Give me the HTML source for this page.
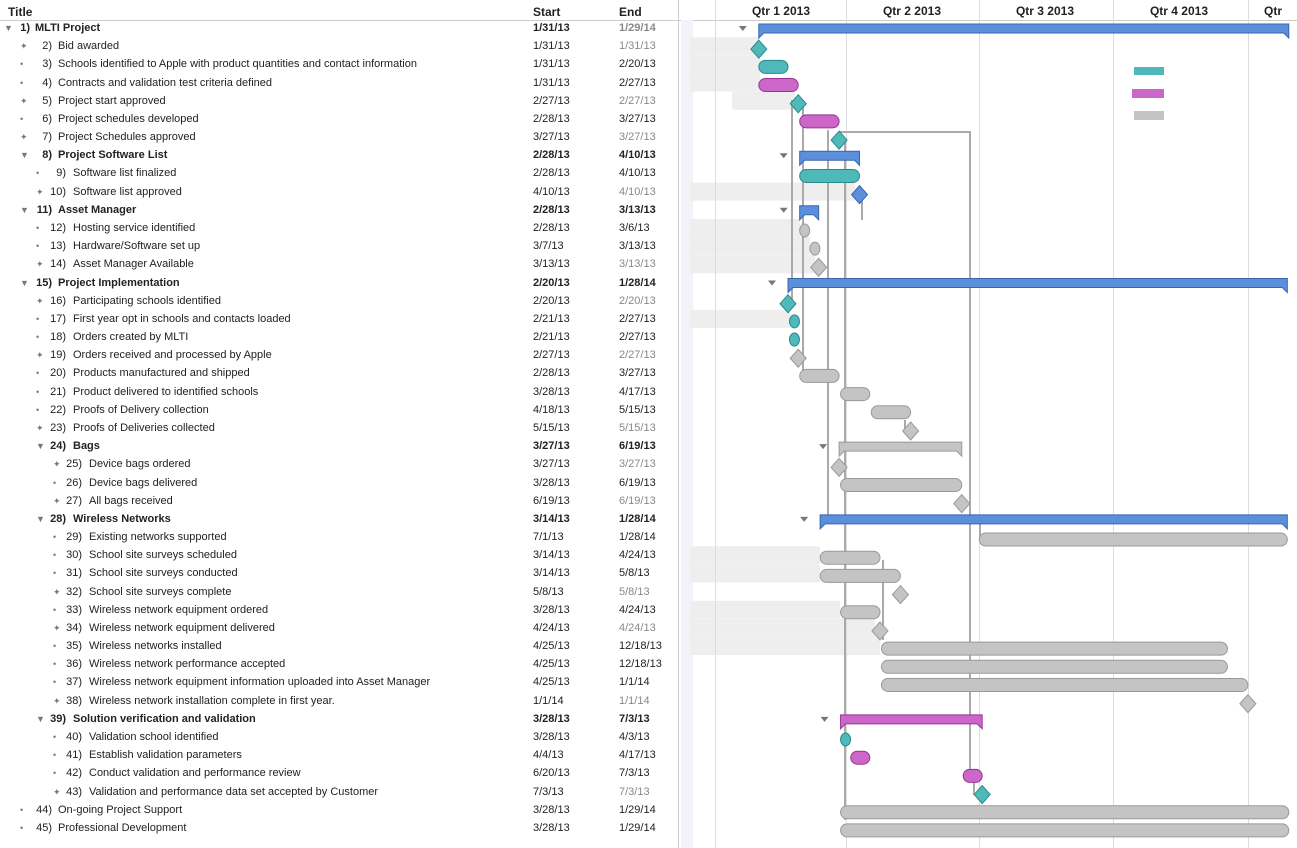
<!DOCTYPE html>
<html><head><meta charset="utf-8"><style>
body{margin:0;width:1297px;height:848px;background:#fff;overflow:hidden;font-family:"Liberation Sans",sans-serif;position:relative}
.r{position:absolute;left:0;width:678px;height:18px;font-size:11px;line-height:18px;color:#222}
.r span{position:absolute;white-space:nowrap}
.b{font-weight:bold}
.g{color:#888}
#svg{position:absolute;left:0;top:0}
</style></head><body>
<svg id="svg" width="1297" height="848"></svg>
<div id="rows"></div>
<script>
var T=[
[0,1,"MLTI Project","1/31/13","1/29/14","S"],
[1,2,"Bid awarded","1/31/13","1/31/13","M","t"],
[1,3,"Schools identified to Apple with product quantities and contact information","1/31/13","2/20/13","T","t"],
[1,4,"Contracts and validation test criteria defined","1/31/13","2/27/13","T","m"],
[1,5,"Project start approved","2/27/13","2/27/13","M","t"],
[1,6,"Project schedules developed","2/28/13","3/27/13","T","m"],
[1,7,"Project Schedules approved","3/27/13","3/27/13","M","t"],
[1,8,"Project Software List","2/28/13","4/10/13","S"],
[2,9,"Software list finalized","2/28/13","4/10/13","T","t"],
[2,10,"Software list approved","4/10/13","4/10/13","M","b"],
[1,11,"Asset Manager","2/28/13","3/13/13","S"],
[2,12,"Hosting service identified","2/28/13","3/6/13","T","g"],
[2,13,"Hardware/Software set up","3/7/13","3/13/13","T","g"],
[2,14,"Asset Manager Available","3/13/13","3/13/13","M","g"],
[1,15,"Project Implementation","2/20/13","1/28/14","S"],
[2,16,"Participating schools identified","2/20/13","2/20/13","M","t"],
[2,17,"First year opt in schools and contacts loaded","2/21/13","2/27/13","T","t"],
[2,18,"Orders created by MLTI","2/21/13","2/27/13","T","t"],
[2,19,"Orders received and processed by Apple","2/27/13","2/27/13","M","g"],
[2,20,"Products manufactured and shipped","2/28/13","3/27/13","T","g"],
[2,21,"Product delivered to identified schools","3/28/13","4/17/13","T","g"],
[2,22,"Proofs of Delivery collection","4/18/13","5/15/13","T","g"],
[2,23,"Proofs of Deliveries collected","5/15/13","5/15/13","M","g"],
[2,24,"Bags","3/27/13","6/19/13","SG"],
[3,25,"Device bags ordered","3/27/13","3/27/13","M","g"],
[3,26,"Device bags delivered","3/28/13","6/19/13","T","g"],
[3,27,"All bags received","6/19/13","6/19/13","M","g"],
[2,28,"Wireless Networks","3/14/13","1/28/14","S"],
[3,29,"Existing networks supported","7/1/13","1/28/14","T","g"],
[3,30,"School site surveys scheduled","3/14/13","4/24/13","T","g"],
[3,31,"School site surveys conducted","3/14/13","5/8/13","T","g"],
[3,32,"School site surveys complete","5/8/13","5/8/13","M","g"],
[3,33,"Wireless network equipment ordered","3/28/13","4/24/13","T","g"],
[3,34,"Wireless network equipment delivered","4/24/13","4/24/13","M","g"],
[3,35,"Wireless networks installed","4/25/13","12/18/13","T","g"],
[3,36,"Wireless network performance accepted","4/25/13","12/18/13","T","g"],
[3,37,"Wireless network equipment information uploaded into Asset Manager","4/25/13","1/1/14","T","g"],
[3,38,"Wireless network installation complete in first year.","1/1/14","1/1/14","M","g"],
[2,39,"Solution verification and validation","3/28/13","7/3/13","SM"],
[3,40,"Validation school identified","3/28/13","4/3/13","T","t"],
[3,41,"Establish validation parameters","4/4/13","4/17/13","T","m"],
[3,42,"Conduct validation and performance review","6/20/13","7/3/13","T","m"],
[3,43,"Validation and performance data set accepted by Customer","7/3/13","7/3/13","M","t"],
[1,44,"On-going Project Support","3/28/13","1/29/14","T","g"],
[1,45,"Professional Development","3/28/13","1/29/14","T","g"]];
var C={t:["#4fb8b8","#2a8a8c"],m:["#cc66c8","#993399"],g:["#c4c4c4","#999"],b:["#5b8fdc","#3a65b0"]};
function dx(s){var p=s.split("/"),m=+p[0],d=+p[1],y=+p[2];var cum=[0,31,59,90,120,151,181,212,243,273,304,334];var n=cum[m-1]+d-1+(y==14?365:0);return 715+n*1.46;}
var svg='';
svg+='<line x1="0" y1="20.5" x2="1297" y2="20.5" stroke="#ccc"/>';
svg+='<rect x="678" y="0" width="1" height="848" fill="#ccc"/><rect x="681" y="20" width="12" height="828" fill="#f0f3f8"/>';
// ghost shading
[[2,690,760],[3,690,760],[4,690,760],[5,732,795],[10,690,855],[12,690,800],[13,690,810],[14,690,815],[17,690,790],[30,690,820],[31,690,820],[33,690,840],[34,690,875],[35,690,880]].forEach(function(g){var y=28+(g[0]-1)*18.18;svg+='<rect x="'+g[1]+'" y="'+(y-9)+'" width="'+(g[2]-g[1])+'" height="18" fill="#eee"/>';});
var q=[[715,"Qtr 1 2013"],[846,"Qtr 2 2013"],[979,"Qtr 3 2013"],[1113,"Qtr 4 2013"],[1248,"Qtr"]];
q.forEach(function(a,i){svg+='<line x1="'+(a[0]+.5)+'" y1="0" x2="'+(a[0]+.5)+'" y2="848" stroke="#ddd"/>';svg+='<text x="'+(i<4?a[0]+66:1273)+'" y="15" font-size="12" font-weight="bold" text-anchor="middle" fill="#222" font-family="Liberation Sans">'+a[1]+'</text>';});
svg+='<text x="8" y="16" font-size="12" font-weight="bold" fill="#222" font-family="Liberation Sans">Title</text><text x="533" y="16" font-size="12" font-weight="bold" fill="#222" font-family="Liberation Sans">Start</text><text x="619" y="16" font-size="12" font-weight="bold" fill="#222" font-family="Liberation Sans">End</text>';
svg+='<g stroke="#aaa" stroke-width="2" fill="none"><path d="M792 100 V300"/><path d="M803 100 V380 H812"/><path d="M828 130 V520"/><path d="M845 140 V820"/><path d="M839 132 H970 V780"/><path d="M862 195 V220"/><path d="M980 515 V540"/><path d="M905 420 V430"/><path d="M883 560 V640"/><path d="M974 780 V795"/></g>';
var html='';
T.forEach(function(r,i){
 var y=28+i*18.18, top=y-9, by=y+3;
 var lv=r[0],nx=[30,52,66,82][lv],tx=[35,58,73,89][lv],ic=[4,20,36,53][lv];
 var s=r[5][0]=="S";
 html+='<div class="r'+(s?' b':'')+'" style="top:'+top+'px">';
 html+='<span style="left:'+ic+'px;color:#777;font-size:9px">'+(s?'&#9660;':(r[5]=="M"?'&#10022;':'&#8226;'))+'</span>';
 html+='<span style="right:'+(678-nx)+'px">'+r[1]+')</span><span style="left:'+tx+'px">'+r[2]+'</span>';
 html+='<span style="left:533px">'+r[3]+'</span><span style="left:619px"'+(r[5]=="M"||i==0?' class="g"':'')+'>'+r[4]+'</span></div>';
 var x1=dx(r[3]),x2=dx(r[4]);
 if(s){var col=r[5]=="SG"?C.g:(r[5]=="SM"?C.m:C.b);
  svg+='<path d="M'+(x1-20)+' '+(by-5)+'l4 5 l4 -5z" fill="#777"/>';
  svg+='<path d="M'+x1+' '+(by-7)+'H'+x2+'V'+(by+7)+'L'+(x2-5)+' '+(by+2)+'H'+(x1+5)+'L'+x1+' '+(by+7)+'Z" fill="'+col[0]+'" stroke="'+col[1]+'"/>';
 }else if(r[5]=="M"){var c=C[r[6]];
  svg+='<path d="M'+x1+' '+(by-9)+'l8 9 l-8 9 l-8 -9z" fill="'+c[0]+'" stroke="'+c[1]+'"/>';
 }else{var c=C[r[6]];var w=Math.max(x2-x1,10);
  svg+='<rect x="'+x1+'" y="'+(by-7)+'" width="'+w+'" height="13" rx="6.5" fill="'+c[0]+'" stroke="'+c[1]+'"/>';}
});
svg+='<rect x="1134" y="67" width="30" height="8" fill="#4fb8b8"/><rect x="1132" y="89" width="32" height="9" fill="#cc66c8"/><rect x="1134" y="111" width="30" height="9" fill="#c4c4c4"/>';
document.getElementById('svg').innerHTML=svg;
document.getElementById('rows').innerHTML=html;
</script>
</body></html>
